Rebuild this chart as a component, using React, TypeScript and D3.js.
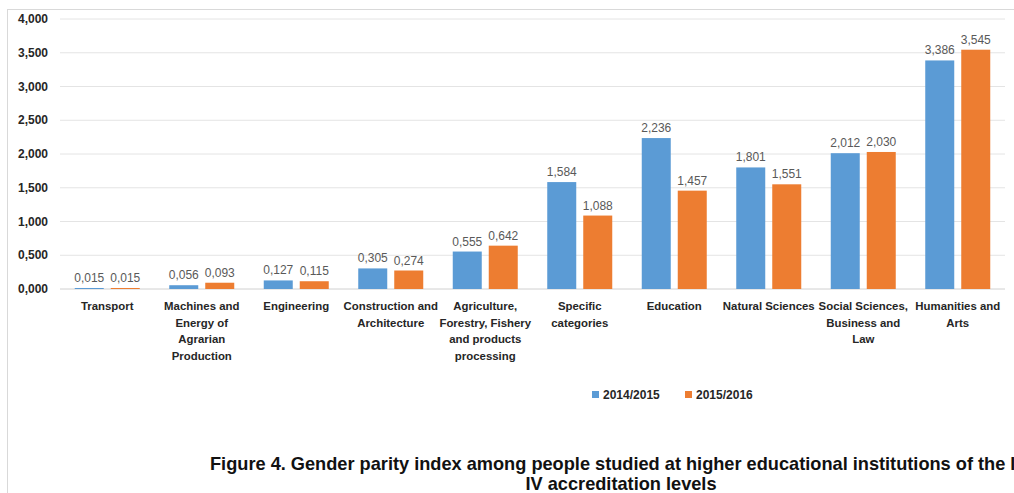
import React from "react";
import * as d3 from "d3";

const categories: string[][] = [
  ["Transport"],
  ["Machines and", "Energy of", "Agrarian", "Production"],
  ["Engineering"],
  ["Construction and", "Architecture"],
  ["Agriculture,", "Forestry, Fishery", "and products", "processing"],
  ["Specific", "categories"],
  ["Education"],
  ["Natural Sciences"],
  ["Social Sciences,", "Business and", "Law"],
  ["Humanities and", "Arts"],
];
const series2014 = [0.015, 0.056, 0.127, 0.305, 0.555, 1.584, 2.236, 1.801, 2.012, 3.386];
const series2015 = [0.015, 0.093, 0.115, 0.274, 0.642, 1.088, 1.457, 1.551, 2.03, 3.545];
const seriesNames = ["2014/2015", "2015/2016"];
const colors = ["#5b9bd5", "#ed7d31"];
const yTicks = [0, 0.5, 1, 1.5, 2, 2.5, 3, 3.5, 4];
const titleLines = [
  "Figure 4. Gender parity index among people studied at higher educational institutions of the III-",
  "IV accreditation levels",
];

const fmt = (v: number) => d3.format(".3f")(v).replace(".", ",");

export default function App() {
  const W = 1014, H = 493;
  const left = 60, right = 1005, top = 19, bottom = 289;
  const font = "'Liberation Sans', Arial, sans-serif";
  const x0 = d3.scaleBand<number>().domain(d3.range(categories.length)).range([left, right]).paddingInner(0).paddingOuter(0);
  const y = d3.scaleLinear().domain([0, 4]).range([bottom, top]);
  const barW = 29, gap = 7;
  const data = [series2014, series2015];
  return (
    <svg width={W} height={H} style={{ position: "absolute", left: 0, top: 0, background: "#fff" }}>
      <rect x={7.5} y={9.5} width={1020} height={500} fill="none" stroke="#d9d9d9" />
      {yTicks.map((t) => (
        <g key={t}>
          <line x1={left} x2={right} y1={y(t)} y2={y(t)} stroke={t === 0 ? "#d0d0d0" : "#e4e4e4"} strokeWidth={1} />
          <text x={48} y={y(t)} dy="0.35em" textAnchor="end" fontFamily={font} fontWeight="bold" fontSize={12} fill="#262626">
            {fmt(t)}
          </text>
        </g>
      ))}
      {categories.map((lines, i) => {
        const c = (x0(i) as number) + x0.bandwidth() / 2;
        return (
          <g key={i}>
            {data.map((s, k) => {
              const bx = k === 0 ? c - gap / 2 - barW : c + gap / 2;
              const v = s[i];
              return (
                <g key={k}>
                  <rect x={bx} y={y(v)} width={barW} height={y(0) - y(v)} fill={colors[k]} />
                  <text x={bx + barW / 2} y={y(v) - 6} textAnchor="middle" fontFamily={font} fontSize={12} fill="#595959">
                    {fmt(v)}
                  </text>
                </g>
              );
            })}
            {lines.map((l, j) => (
              <text key={j} x={c} y={310 + j * 16.5} textAnchor="middle" fontFamily={font} fontWeight="bold" fontSize={11.4} fill="#262626">
                {l}
              </text>
            ))}
          </g>
        );
      })}
      {seriesNames.map((n, k) => (
        <g key={n}>
          <rect x={k === 0 ? 592 : 685} y={391} width={7} height={7} fill={colors[k]} />
          <text x={k === 0 ? 603 : 696} y={399} fontFamily={font} fontWeight="bold" fontSize={12} fill="#262626">
            {n}
          </text>
        </g>
      ))}
      {titleLines.map((t, j) => (
        <text key={j} x={j === 0 ? 210 : 621} y={470 + j * 20} textAnchor={j === 0 ? "start" : "middle"} fontFamily={font} fontWeight="bold" fontSize={18.2} fill="#111">
          {t}
        </text>
      ))}
    </svg>
  );
}
